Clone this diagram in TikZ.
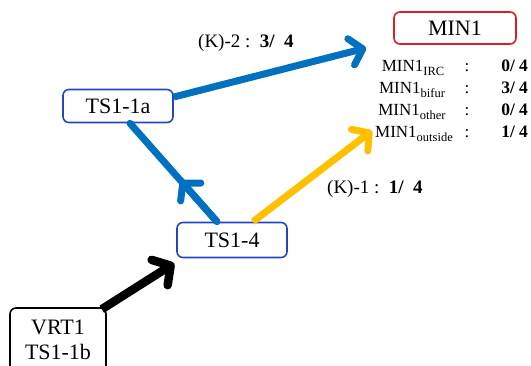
\documentclass[tikz,border=0pt]{standalone}
\usepackage{fontspec}
\setmainfont{Liberation Serif}
\usetikzlibrary{arrows.meta,calc}
\definecolor{ablue}{RGB}{0,112,192}
\definecolor{ayellow}{RGB}{255,192,0}
\definecolor{bred}{RGB}{220,30,40}
\definecolor{bblue}{RGB}{35,70,190}
\newcommand{\subtxt}[1]{\raisebox{-4.5pt}{\fontsize{12.5}{12.5}\selectfont #1}}
\begin{document}
\begin{tikzpicture}[x=1pt,y=-1pt,
  box/.style={draw,rounded corners=6pt,line width=1.6pt,inner sep=0pt,align=center,font=\fontsize{22}{25}\selectfont},
  lbl/.style={font=\fontsize{19}{22}\selectfont,inner sep=0pt,anchor=base west},
  row/.style={font=\fontsize{17}{19}\selectfont,inner sep=0pt,anchor=base},
  frac/.style={font=\fontsize{17.5}{19}\selectfont\bfseries,inner sep=0pt,anchor=base east},
  bluetip/.style={-{Straight Barb[length=12pt,width=27pt,round]}},
  blacktip/.style={-{Straight Barb[length=13pt,width=30pt,round]}}
]
\useasboundingbox (0,0) rectangle (531,365);
\clip (0,0) rectangle (531,365);
\node[box,draw=bred,minimum width=122pt,minimum height=32pt] (min) at (455,28) {MIN1};
\node[box,draw=bblue,minimum width=110pt,minimum height=33pt] (ts1a) at (118,106) {TS1-1a};
\node[box,draw=bblue,minimum width=110pt,minimum height=35pt] (ts4) at (232,240) {TS1-4};
\node[box,draw=black,minimum width=96pt,minimum height=64pt] (vrt) at (58,340) {VRT1\\TS1-1b};

\node[lbl] (k2) at (198,47) {(K)-2 :\ \ \textbf{3/\ \ 4}};
\node[lbl] (k1) at (327,193) {(K)-1 :\ \ \textbf{1/\ \ 4}};

\node[row] (r1) at (413,71) {MIN1\subtxt{IRC}};
\node[row] (r2) at (412,93) {MIN1\subtxt{bifur}};
\node[row] (r3) at (412,115) {MIN1\subtxt{other}};
\node[row] (r4) at (414,137) {MIN1\subtxt{outside}};
\foreach \y/\n in {71/c1,93/c2,115/c3,137/c4}
  \node[row] (\n) at (467,\y) {:};
\node[frac] (f1) at (528,71) {0/\hspace{4pt}4};
\node[frac] (f2) at (528,93) {3/\hspace{4pt}4};
\node[frac] (f3) at (528,115) {0/\hspace{4pt}4};
\node[frac] (f4) at (528,137) {1/\hspace{4pt}4};

% connectors
\coordinate (s1) at ($(ts4.north)+(-15,0)$);
\coordinate (e1) at ($(ts1a.south)+(12,0)$);
\coordinate (m1) at ($(s1)!0.42!(e1)$);
\draw[ablue,line width=7pt,line cap=round] (s1) -- (e1);
\draw[ablue,line width=7pt,bluetip] (s1) -- (m1);

\coordinate (s2) at ($(ts1a.east)+(0,-9)$);
\coordinate (e2) at ($(min.west)+(-27,20)$);
\draw[ablue,line width=7pt,bluetip] (s2) -- (e2);

\coordinate (s3) at ($(ts4.north)+(21,0)$);
\coordinate (e3) at ($(r4.west)+(-3,-3)$);
\draw[ayellow,line width=7pt,bluetip] (s3) -- (e3);

\coordinate (s4) at ($(vrt.north east)+(-5,2)$);
\coordinate (e4) at ($(ts4.south west)+(-2,5)$);
\draw[black,line width=8.5pt,blacktip] (s4) -- (e4);
\end{tikzpicture}
\end{document}
